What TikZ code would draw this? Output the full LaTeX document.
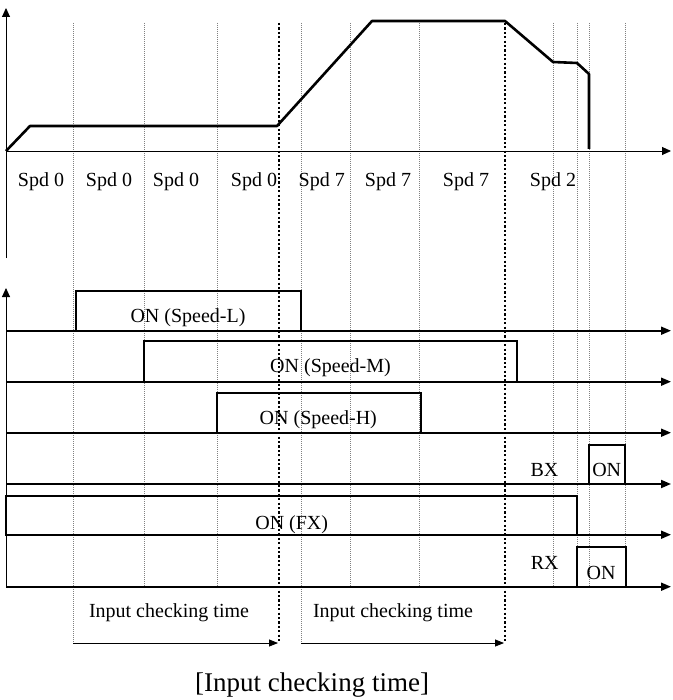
\documentclass[tikz,border=0pt]{standalone}
\usepackage{fontspec}
\setmainfont{Liberation Serif}
\usetikzlibrary{arrows.meta}
\begin{document}
\begin{tikzpicture}[x=1pt,y=-1pt,
  every node/.style={font=\fontsize{20}{24}\selectfont, inner sep=0pt, anchor=base},
  gridline/.style={gray, line width=0.6pt, dash pattern=on 1pt off 1pt},
  chkline/.style={black, line width=2.2pt, dash pattern=on 2.2pt off 2.2pt},
  axisline/.style={line width=0.9pt, -{Triangle[length=9pt,width=8pt]}},
  baseline/.style={line width=1.8pt, -{Triangle[length=10pt,width=8pt]}},
  sigbox/.style={line width=1.8pt},
  speedcurve/.style={line width=2.6pt, line join=round},
  timearrow/.style={line width=0.8pt, -{Triangle[length=9pt,width=7pt]}},
  captionfont/.style={font=\fontsize{27}{32}\selectfont}]
\useasboundingbox (0,0) rectangle (672,700);

% grid lines
\foreach \x in {144,217,350,419,553,577,589,625}
  \draw[gridline] (\x,23) -- (\x,587);
\foreach \x in {73,301}
  \draw[gridline] (\x,23) -- (\x,644);

% input-checking dotted markers
\draw[chkline] (279,23) -- (279,643);
\draw[chkline] (505,23) -- (505,643);

% speed diagram axes
\draw[axisline] (6,258) -- (6,8);
\draw[axisline] (6,151) -- (671,151);

% speed curve
\draw[speedcurve] (6,151) -- (30,126) -- (277,126) -- (372,21) -- (505,21)
  -- (553,62) -- (577,63) -- (589,74) -- (589,149);

% speed labels
\node (s1) at (41,186.7) {Spd 0};
\node (s2) at (109,186.7) {Spd 0};
\node (s3) at (176,186.7) {Spd 0};
\node (s4) at (254,186.7) {Spd 0};
\node (s5) at (321.7,186.7) {Spd 7};
\node (s6) at (388,186.7) {Spd 7};
\node (s7) at (466,186.7) {Spd 7};
\node (s8) at (553,186.7) {Spd 2};

% signal axis
\draw[axisline] (6,587) -- (6,288);
\foreach \y in {330.7,381.7,432.7,484,534.7,586.7}
  \draw[baseline] (6,\y) -- (671,\y);

% signal boxes
\draw[sigbox] (76,330.7) rectangle (301,291);
\draw[sigbox] (144,381.7) rectangle (517,341);
\draw[sigbox] (217,432.7) rectangle (420.7,392.7);
\draw[sigbox] (589,484) rectangle (625.3,445);
\draw[sigbox] (6,534.7) rectangle (577,495.7);
\draw[sigbox] (577,586.7) rectangle (625.7,547.3);

% signal labels
\node (onl) at (188,322) {ON (Speed-L)};
\node (onm) at (330.5,372) {ON (Speed-M)};
\node (onh) at (318.3,424) {ON (Speed-H)};
\node (bx) at (544.5,476.7) {BX};
\node (onbx) at (606.7,476.7) {ON};
\node (onfx) at (291.7,529) {ON (FX)};
\node (rx) at (544.7,569.3) {RX};
\node (onrx) at (601,579.3) {ON};

% input checking time
\node (ict1) at (169,617.3) {Input checking time};
\node (ict2) at (393,617.3) {Input checking time};
\coordinate (a1s) at (73,643);
\coordinate (a1e) at (278,643);
\coordinate (a2s) at (301,643);
\coordinate (a2e) at (504,643);
\draw[timearrow] (a1s) -- (a1e);
\draw[timearrow] (a2s) -- (a2e);

\node[captionfont] (cap) at (312,691.5) {[Input checking time]};
\end{tikzpicture}
\end{document}
